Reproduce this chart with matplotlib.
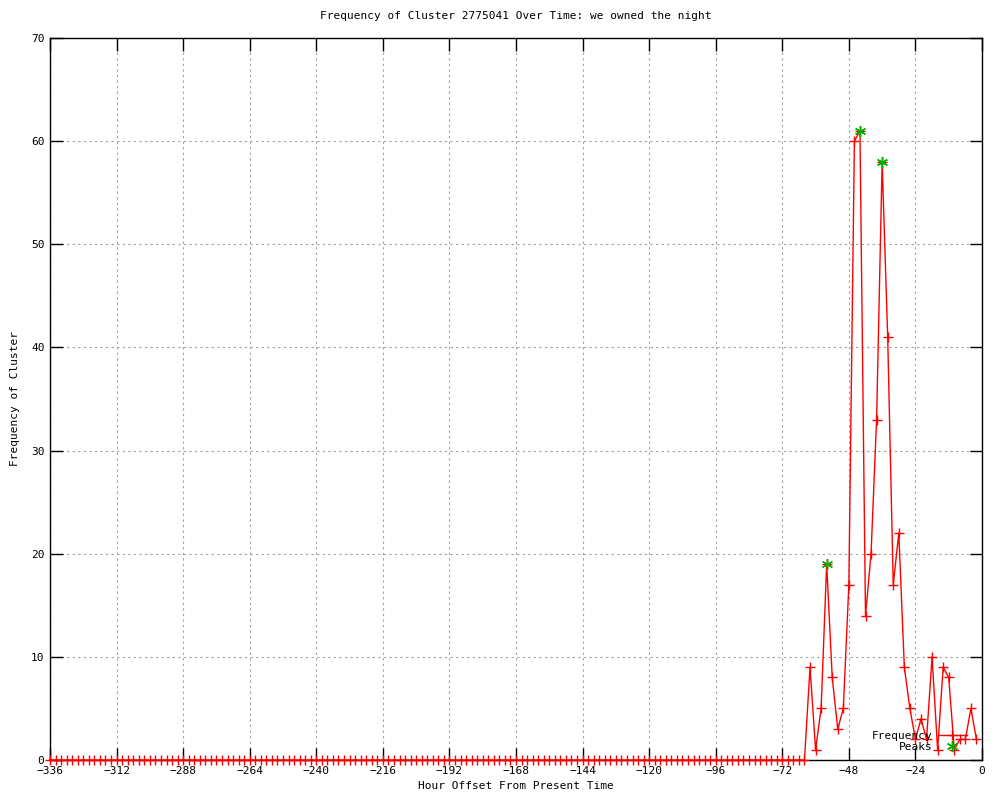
import numpy as np
import matplotlib
matplotlib.use('Agg')
import matplotlib.pyplot as plt

# hours offset from present, every 2 hours
hours = list(range(-336, 0, 2))
# non-zero tail of the series (from -62 to -2)
tail = [9, 1, 5, 19, 8, 3, 5, 17, 60, 61, 14, 20, 33, 58, 41, 17, 22, 9,
        5, 2, 4, 2, 10, 1, 9, 8, 1, 2, 2, 5, 2]
freq = [0] * (len(hours) - len(tail)) + tail

peak_hours = [-56, -44, -36]
peak_vals = [19, 61, 58]

xticks = list(range(-336, 1, 24))
yticks = list(range(0, 71, 10))

plt.rcParams['font.family'] = 'DejaVu Sans Mono'
plt.rcParams['font.size'] = 8

fig = plt.figure(figsize=(10, 8), dpi=100)
ax = fig.add_axes([0.05, 0.05, 0.932, 0.9025])

ax.plot(hours, freq, color='red', lw=1, marker='+', ms=7, mew=1,
        label='Frequency', zorder=3, clip_on=False)
ax.plot(peak_hours, peak_vals, ls='none', marker=(6, 2, 0), ms=8, mew=1,
        color='#00b000', label='Peaks', zorder=4, clip_on=False)

ax.set_xlim(-336, 0)
ax.set_ylim(0, 70)
ax.set_xticks(xticks)
ax.set_yticks(yticks)
ax.tick_params(direction='in', top=True, right=True, length=9, width=1,
               labelsize=8, pad=4)
ax.grid(True, color='#a0a0a0', ls=(0, (2, 3)), lw=0.8)
for s in ax.spines.values():
    s.set_linewidth(1)

ax.set_title('Frequency of Cluster 2775041 Over Time: we owned the night',
             fontsize=8, pad=14)
ax.set_xlabel('Hour Offset From Present Time', fontsize=8, labelpad=4)
ax.set_ylabel('Frequency of Cluster', fontsize=8, labelpad=8)

ax.legend(loc='lower right', bbox_to_anchor=(0.992, 0.0), frameon=False,
          markerfirst=False, handlelength=2.6, fontsize=8, labelspacing=0.1,
          handletextpad=0.5, borderaxespad=0.3)

fig.savefig('out.png', dpi=100, facecolor='white')
